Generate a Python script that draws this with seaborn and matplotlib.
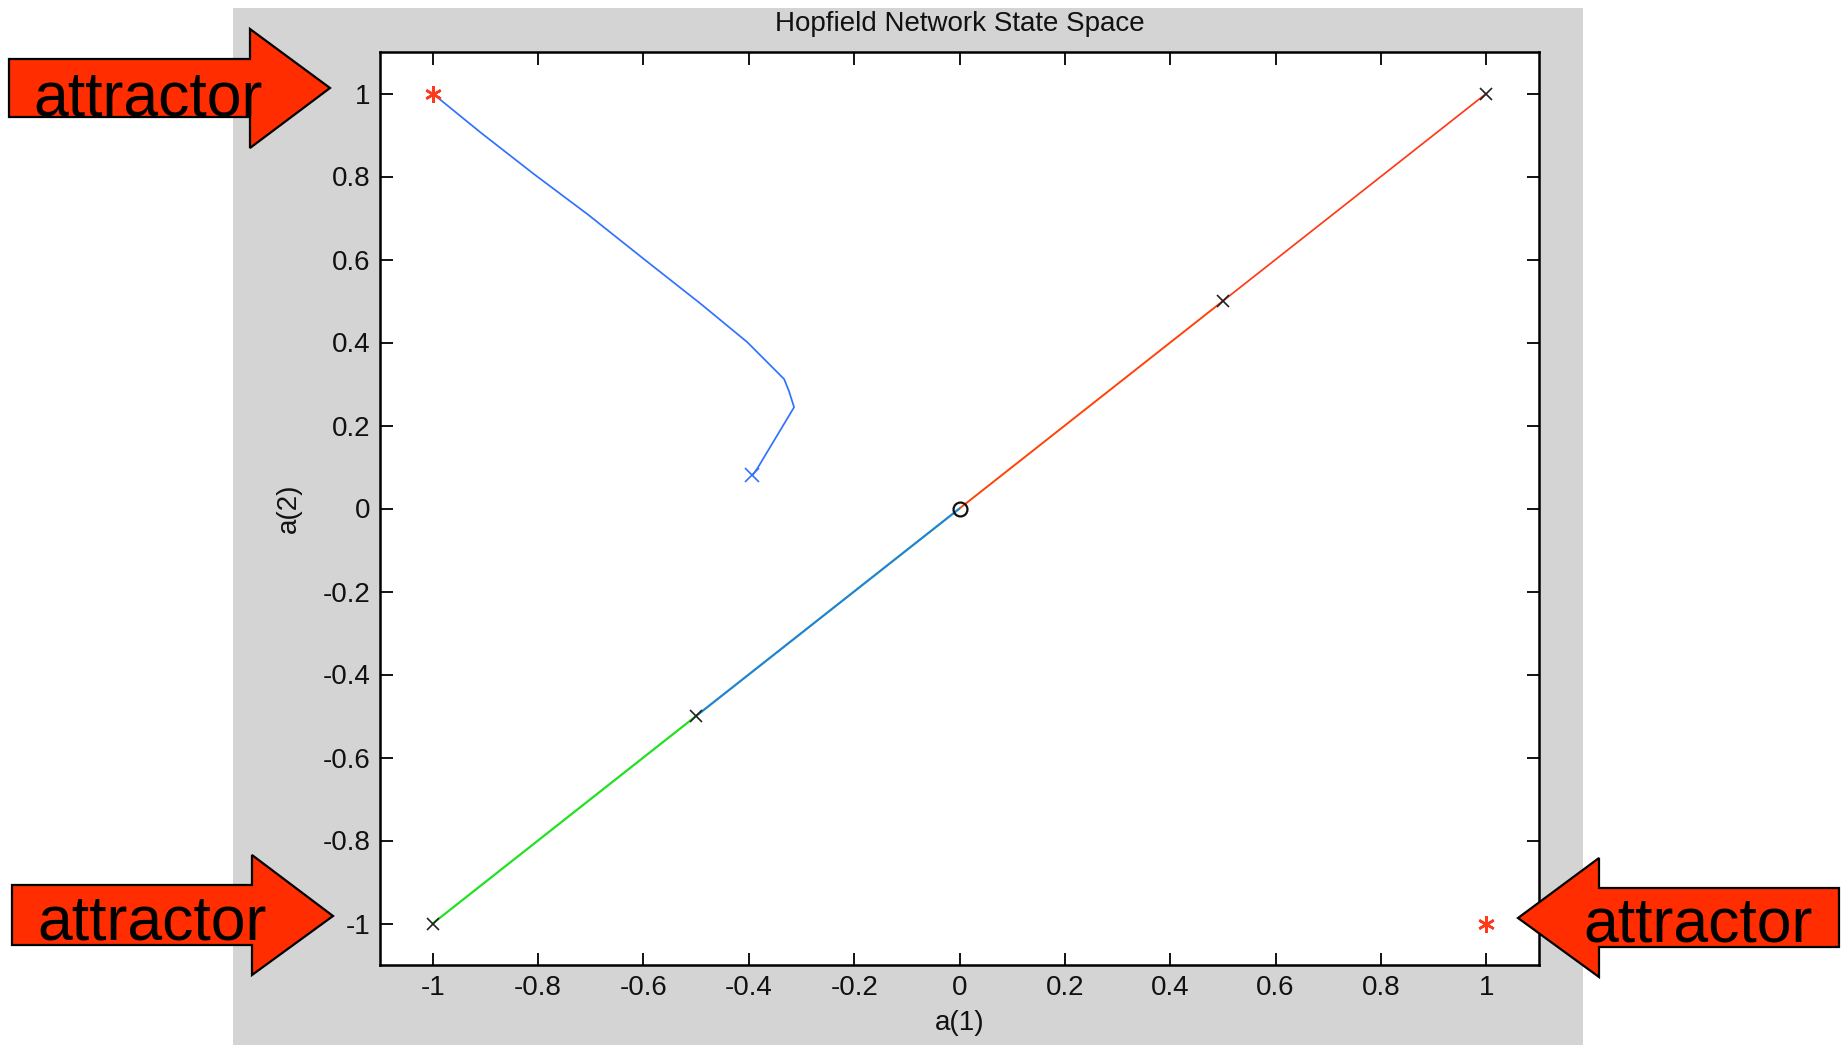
import numpy as np
import pandas as pd
import matplotlib
matplotlib.use("Agg")
import matplotlib.pyplot as plt
from matplotlib.patches import Polygon, Rectangle
import seaborn as sns

# ---------------- data ----------------
# trajectory 1 (blue): from start point to attractor (-1, 1)
traj1_x = [-0.393, -0.384, -0.314, -0.324, -0.333, -0.403, -0.491, -0.599, -0.706, -0.808, -0.909, -1.0]
traj1_y = [0.080, 0.096, 0.244, 0.284, 0.312, 0.401, 0.493, 0.601, 0.709, 0.806, 0.906, 1.0]

# diagonal trajectories toward the saddle point (0, 0)
traj_red_x = [1.0, 0.5, 0.0]
traj_red_y = [1.0, 0.5, 0.0]
traj_gold_x = [0.5, 0.25, 0.0]
traj_gold_y = [0.5, 0.25, 0.0]
traj_green_x = [-1.0, -0.5, 0.0]
traj_green_y = [-1.0, -0.5, 0.0]
traj_blue2_x = [-0.5, -0.25, 0.0]
traj_blue2_y = [-0.5, -0.25, 0.0]

# start points (x markers)
start_black_x = [-1.0, -0.5, 0.5, 1.0]
start_black_y = [-1.0, -0.5, 0.5, 1.0]
start_blue_x = [-0.393]
start_blue_y = [0.080]

# attractors (red asterisks) and saddle point (circle)
attr_x = [-1.0, 1.0]
attr_y = [1.0, -1.0]
saddle_x = [0.0]
saddle_y = [0.0]

ticks = [-1, -0.8, -0.6, -0.4, -0.2, 0, 0.2, 0.4, 0.6, 0.8, 1]
tick_labels = ["-1", "-0.8", "-0.6", "-0.4", "-0.2", "0", "0.2", "0.4", "0.6", "0.8", "1"]

title = "Hopfield Network State Space"
xlabel = "a(1)"
ylabel = "a(2)"
annot_text = "attractor"

# ---------------- figure ----------------
sns.set_theme(style="white")
plt.rcParams["font.family"] = ["Liberation Sans", "DejaVu Sans"]
plt.rcParams["axes.unicode_minus"] = False

W, H = 1848, 1045
DPI = 100
fig = plt.figure(figsize=(W / DPI, H / DPI), dpi=DPI, facecolor="white")

def px(x, y):
    return (x / W, 1 - y / H)

# gray MATLAB figure background
x0, y0 = px(233, 1045)
x1, y1 = px(1583, 8)
fig.add_artist(Rectangle((x0, y0), x1 - x0, y1 - y0, transform=fig.transFigure,
                         facecolor="#d4d4d4", edgecolor="none", zorder=-5))

# axes
L, R, T, B = 380, 1539, 52, 965
ax = fig.add_axes([L / W, 1 - B / H, (R - L) / W, (B - T) / H])
ax.set_facecolor("white")
ax.set_zorder(0)

lw = 1.25
sns.lineplot(x=traj_gold_x, y=traj_gold_y, sort=False, estimator=None, color="#ffc400", lw=1.6, alpha=0.55, ax=ax)
sns.lineplot(x=traj_red_x, y=traj_red_y, sort=False, estimator=None, color="#ff3a1a", lw=lw, ax=ax)
sns.lineplot(x=traj_green_x, y=traj_green_y, sort=False, estimator=None, color="#22e022", lw=1.6, ax=ax)
sns.lineplot(x=traj_blue2_x, y=traj_blue2_y, sort=False, estimator=None, color="#2f72ff", lw=lw, ax=ax)
sns.lineplot(x=traj1_x, y=traj1_y, sort=False, estimator=None, color="#2f72ff", lw=lw, ax=ax)

ax.plot(start_black_x, start_black_y, ls="none", marker="x", ms=9, mew=1.2, color="#222222", zorder=5)
ax.plot(start_blue_x, start_blue_y, ls="none", marker="x", ms=10, mew=1.2, color="#2f72ff", zorder=5)
ax.plot(attr_x, attr_y, ls="none", marker=(6, 2, 0), ms=12, mew=1.8, color="#ff3a1a", zorder=6)
ax.plot(saddle_x, saddle_y, ls="none", marker="o", ms=10, mew=1.6, mfc="none", mec="#111111", zorder=6)

ax.set_xlim(-1.1, 1.1)
ax.set_ylim(-1.1, 1.1)
ax.set_xticks(ticks)
ax.set_xticklabels(tick_labels)
ax.set_yticks(ticks)
ax.set_yticklabels(tick_labels)
ax.tick_params(axis="both", which="both", direction="in", length=9, width=1.3,
               color="black", labelsize=20, labelcolor="#111111", pad=7,
               top=True, right=True, bottom=True, left=True)
for s in ax.spines.values():
    s.set_visible(True)
    s.set_color("black")
    s.set_linewidth(1.8)
ax.grid(False)

ax.set_title(title, fontsize=20, color="#111111", pad=15)
ax.set_xlabel(xlabel, fontsize=20, color="#111111", va="center")
ax.set_ylabel(ylabel, fontsize=20, color="#111111", va="center")
ax.xaxis.set_label_coords(0.5, (B - 1023) / (B - T))
ax.yaxis.set_label_coords((289 - L) / (R - L), 0.5)

# ---------------- arrows with "attractor" ----------------
arrow_color = "#ff2d00"
arrows = [
    [(9, 59), (250, 59), (250, 29), (330, 88), (250, 148), (250, 117), (9, 117)],
    [(12, 885), (252, 885), (252, 855), (333, 916), (252, 975), (252, 945), (12, 945)],
    [(1839, 888), (1599, 888), (1599, 858), (1518, 918), (1599, 977), (1599, 947), (1839, 947)],
]
for poly in arrows:
    pts = [px(x, y) for x, y in poly]
    fig.add_artist(Polygon(pts, closed=True, transform=fig.transFigure,
                           facecolor=arrow_color, edgecolor="black", lw=1.6, zorder=10))

text_pos = [(33, 115), (37, 940), (1583, 942)]
for tx, ty in text_pos:
    fx, fy = px(tx, ty)
    fig.text(fx, fy, annot_text, fontsize=45, color="black", ha="left", va="baseline",
             family=["Liberation Sans", "DejaVu Sans"], zorder=11)

fig.savefig("out.png", dpi=DPI, facecolor="white")
